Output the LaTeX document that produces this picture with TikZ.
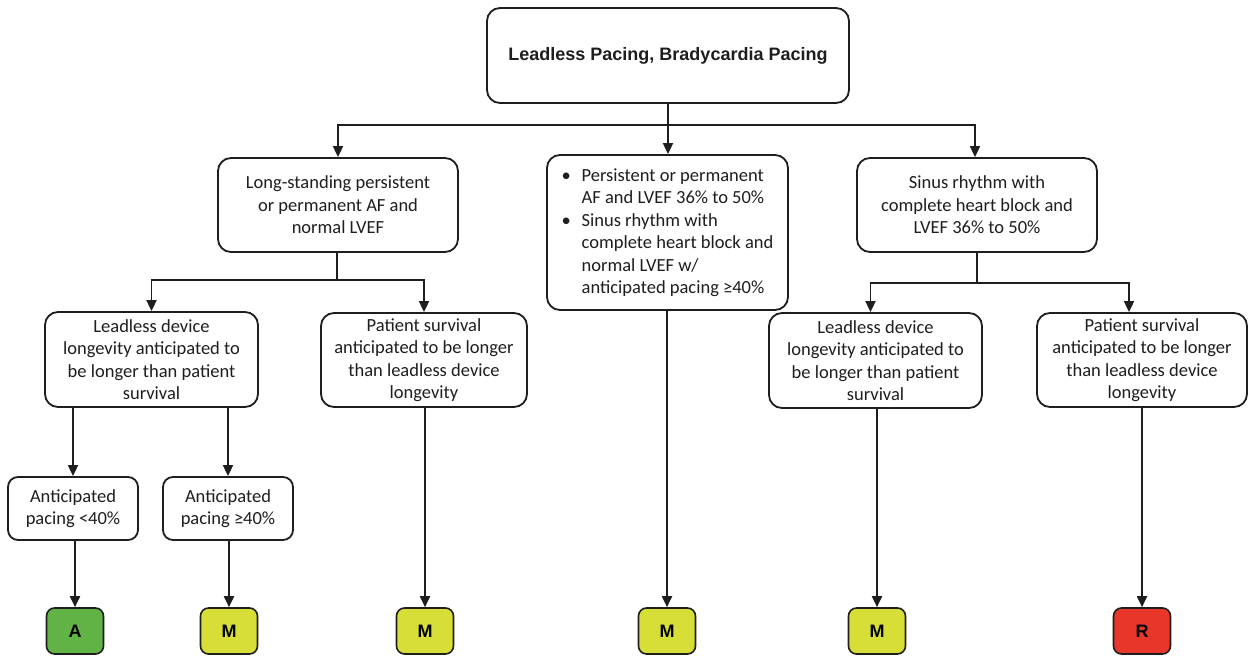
\documentclass[tikz,border=0pt]{standalone}
\usepackage{fontspec}
\setmainfont{Carlito}
\newfontfamily\hdrfont{Liberation Sans}
\usetikzlibrary{arrows.meta}
\definecolor{ink}{HTML}{1E1E1E}
\definecolor{gA}{HTML}{62B346}
\definecolor{yM}{HTML}{D7DE37}
\definecolor{rR}{HTML}{E8372A}
\begin{document}
\begin{tikzpicture}[x=1pt,y=-1pt,
  box/.style={draw=ink, line width=1.8pt, rounded corners=13pt, fill=white, align=center, inner sep=0pt, text=ink, font=\fontsize{18.5}{22.5}\selectfont},
  sz/.style 2 args={minimum width=#1pt, minimum height=#2pt},
  badge/.style={draw=ink, line width=1.6pt, rounded corners=8pt, minimum width=57pt, minimum height=46pt, inner sep=0pt, text=black, font=\hdrfont\bfseries\fontsize{18}{20}\selectfont},
  arr/.style={draw=ink, line width=1.8pt, -{Triangle[length=11pt,width=10pt]}},
  ln/.style={draw=ink, line width=1.8pt}]
\useasboundingbox (0,0) rectangle (1251,656);

% nodes
\node[box, sz={362}{95}, font=\hdrfont\bfseries\fontsize{18}{22}\selectfont] (top) at (668,55.5) {Leadless Pacing, Bradycardia Pacing};
\node[box, sz={240}{94}] (lsp) at (338,205) {Long-standing persistent\\or permanent AF and\\normal LVEF};
\node[box, sz={241}{155}, align=left] (mid) at (667.5,232.5) {\makebox[20pt][l]{\textbullet}Persistent or permanent\\\hspace*{20pt}AF and LVEF 36\% to 50\%\\\makebox[20pt][l]{\textbullet}Sinus rhythm with\\\hspace*{20pt}complete heart block and\\\hspace*{20pt}normal LVEF w/\\\hspace*{20pt}anticipated pacing ≥40\%};
\node[box, sz={240}{94}] (sr) at (977,205) {Sinus rhythm with\\complete heart block and\\LVEF 36\% to 50\%};

\node[box, sz={213}{95}] (l1) at (151.5,359.5) {Leadless device\\longevity anticipated to\\be longer than patient\\survival};
\node[box, sz={206}{94}] (l2) at (424,360) {Patient survival\\anticipated to be longer\\than leadless device\\longevity};
\node[box, sz={213}{95}] (r1) at (875.5,360.5) {Leadless device\\longevity anticipated to\\be longer than patient\\survival};
\node[box, sz={210}{94}] (r2) at (1142,360) {Patient survival\\anticipated to be longer\\than leadless device\\longevity};

\node[box, sz={130}{63}, rounded corners=10pt] (la) at (73,508.5) {Anticipated\\pacing <40\%};
\node[box, sz={130}{63}, rounded corners=10pt] (lb) at (228,508.5) {Anticipated\\pacing ≥40\%};

\node[badge, fill=gA] (bA) at (75,631) {A};
\node[badge, fill=yM] (bM1) at (229,631) {M};
\node[badge, fill=yM] (bM2) at (425,631) {M};
\node[badge, fill=yM] (bM3) at (667,631) {M};
\node[badge, fill=yM] (bM4) at (877,631) {M};
\node[badge, fill=rR] (bR) at (1142,631) {R};

% junctions
\coordinate (j1) at (668,125);
\coordinate (j2) at (337,280);
\coordinate (j3) at (977,283);

% connectors
\draw[ln] (top.south) -- (j1);
\draw[arr] (j1) -| (lsp.north);
\draw[arr] (j1) -| ([xshift=-2pt]sr.north);
\draw[arr] (top.south) -- (top.south |- mid.north);

\draw[ln] (lsp.south -| j2) -- (j2);
\draw[arr] (j2) -| (l1.north);
\draw[arr] (j2) -| (l2.north);

\draw[ln] (sr.south) -- (j3);
\draw[arr] (j3) -| ([xshift=-5pt]r1.north);
\draw[arr] (j3) -| ([xshift=-13pt]r2.north);

\draw[arr] (la.north |- l1.south) -- (la.north);
\draw[arr] (lb.north |- l1.south) -- (lb.north);

\draw[arr] (la.south -| bA) -- (bA.north);
\draw[arr] (lb.south -| bM1) -- (bM1.north);
\draw[arr] (l2.south -| bM2) -- (bM2.north);
\draw[arr] (mid.south -| bM3) -- (bM3.north);
\draw[arr] (r1.south -| bM4) -- (bM4.north);
\draw[arr] (r2.south) -- (bR.north);
\end{tikzpicture}
\end{document}
